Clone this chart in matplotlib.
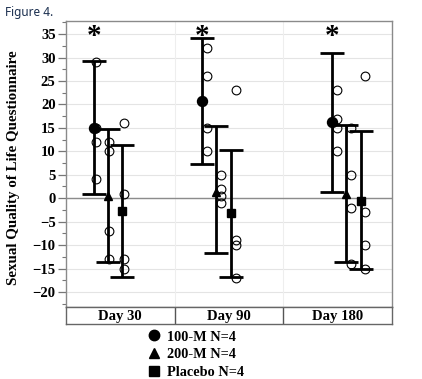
import matplotlib
matplotlib.use("Agg")
import matplotlib.pyplot as plt
from matplotlib.lines import Line2D
from matplotlib.ticker import MultipleLocator

# === DATA ===
days = ["Day 30", "Day 90", "Day 180"]
series_labels = ["100-M N=4", "200-M N=4", "Placebo N=4"]

pts_100m = [[29, 15, 12, 4], [32, 26, 15, 10], [23, 17, 15, 10]]
pts_200m = [[12, 10, -7, -13], [5, 2, 0.5, -1], [15, 5, -2, -14]]
pts_placebo = [[16, 1, -13, -15], [23, -9, -10, -17], [26, -3, -10, -15]]

mean_100m = [15.0, 20.7, 16.3]
mean_200m = [0.5, 1.4, 1.0]
mean_placebo = [-2.7, -3.2, -0.5]

upper_100m = [29.2, 34.1, 31.0]
upper_200m = [14.8, 15.3, 15.7]
upper_placebo = [11.4, 10.3, 14.3]

lower_100m = [0.9, 7.3, 1.4]
lower_200m = [-13.5, -11.6, -13.5]
lower_placebo = [-16.8, -16.7, -15.1]

significant = [True, True, True]  # asterisk above 100-M

# === LAYOUT ===
POS_100M = [0.26, 1.25, 2.45]
POS_200M = [0.385, 1.38, 2.58]
POS_PLACEBO = [0.515, 1.515, 2.715]
PT_SHIFT = [0.015, 0.045, 0.04]
SERIF = "Liberation Serif"
FS_TICK = 10.5
FS_LABEL = 10.8
FS_DAY = 10.6
FS_LEG = 10.3

fig = plt.figure(figsize=(4.22, 3.79), dpi=100)
ax = fig.add_axes([0.1564, 0.19, 0.7726, 0.7546])
band = fig.add_axes([0.1564, 0.1451, 0.7726, 0.0449])

ax.set_xlim(0, 3)
ax.set_ylim(-23.2, 37.8)
for y in range(-20, 40, 5):
    ax.axhline(y, color="#e4e4e4", lw=0.8, zorder=0)
for x in (1, 2):
    ax.axvline(x, color="#eeeeee", lw=0.8, zorder=0)
ax.axhline(0, color="#8c8c8c", lw=1.0, zorder=1)

series = [
    (POS_100M, pts_100m, mean_100m, upper_100m, lower_100m, "o", 9),
    (POS_200M, pts_200m, mean_200m, upper_200m, lower_200m, "^", 8),
    (POS_PLACEBO, pts_placebo, mean_placebo, upper_placebo, lower_placebo, "s", 8),
]
for pos, pts, mean, up, lo, mk, ms in series:
    for i in range(len(days)):
        ax.plot([pos[i] + PT_SHIFT[i]] * len(pts[i]), pts[i], "o", ms=6.3,
                mfc="none", mec="black", mew=0.8, zorder=2)
    yerr = [[m - l for m, l in zip(mean, lo)], [u - m for m, u in zip(mean, up)]]
    ax.errorbar(pos, mean, yerr=yerr, fmt="none", ecolor="black",
                elinewidth=2.0, capsize=8.5, capthick=2.0, zorder=3)
    ax.plot(pos, mean, mk, ms=ms * 0.8, color="black", zorder=4, ls="none")

for i, sig in enumerate(significant):
    if sig:
        ax.text(POS_100M[i], 34.4, "*", ha="center", va="center",
                fontsize=21, fontweight="bold", family=SERIF)

ax.set_xticks([])
ax.yaxis.set_major_locator(MultipleLocator(5))
ax.yaxis.set_minor_locator(MultipleLocator(2.5))
ax.set_yticks(range(-20, 40, 5))
ax.tick_params(axis="y", which="major", length=5.5, width=0.9, color="#777777",
               pad=2, labelsize=FS_TICK)
ax.tick_params(axis="y", which="minor", length=3, width=0.8, color="#777777")
for lab in ax.get_yticklabels():
    lab.set_family(SERIF)
    lab.set_fontweight("bold")
for s in ax.spines.values():
    s.set_color("#8a8a8a")
    s.set_linewidth(1.0)
ax.set_ylabel("Sexual Quality of Life Questionnaire", family=SERIF,
              fontweight="bold", fontsize=FS_LABEL)
ax.yaxis.set_label_coords(-0.14, 0.488)

band.set_xlim(0, 3)
band.set_ylim(0, 1)
band.set_xticks([])
band.set_yticks([])
for x in (1, 2):
    band.axvline(x, color="#555555", lw=1.0)
for i, d in enumerate(days):
    band.text(i + 0.5, 0.45, d, ha="center", va="center", family=SERIF,
              fontweight="bold", fontsize=FS_DAY)
for s in band.spines.values():
    s.set_color("#666666")
    s.set_linewidth(1.0)

handles = [
    Line2D([], [], marker="o", ls="none", color="black", ms=7.5),
    Line2D([], [], marker="^", ls="none", color="black", ms=7),
    Line2D([], [], marker="s", ls="none", color="black", ms=6.5),
]
fig.legend(handles, series_labels, loc="upper left", bbox_to_anchor=(0.352, 0.128),
           frameon=False, handlelength=0.8, handletextpad=0.5, labelspacing=0.33,
           borderpad=0, borderaxespad=0,
           prop={"family": SERIF, "weight": "bold", "size": FS_LEG})

fig.text(0.012, 0.968, "Figure 4.", ha="left", va="center", fontsize=8.5,
         family="Noto Sans", color="#1b2f4f")

fig.savefig("out.png", dpi=100, facecolor="white")
